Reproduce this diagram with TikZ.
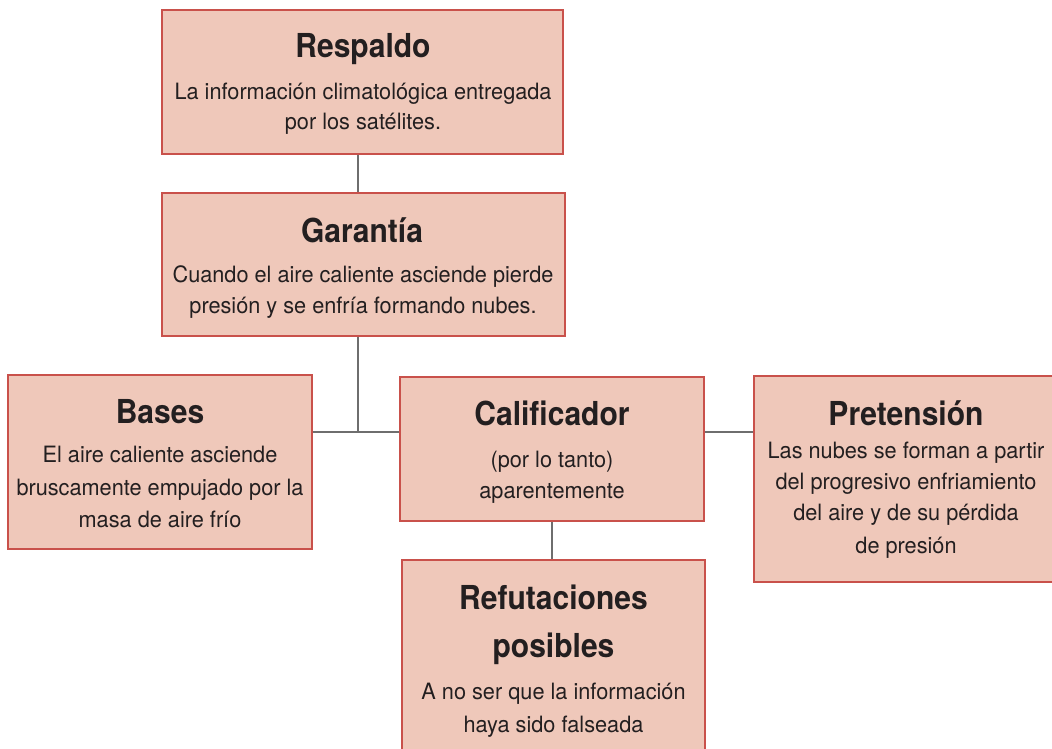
\documentclass[tikz,border=0pt]{standalone}
\usepackage{fontspec}
\setmainfont{TeX Gyre Heros}
\newfontfamily\ttlfont[FakeStretch=0.91]{TeX Gyre Heros}
\newfontfamily\bodfont[FakeStretch=0.965]{TeX Gyre Heros}
\definecolor{boxfill}{HTML}{EFC8BA}
\definecolor{boxline}{HTML}{C9514B}
\definecolor{conn}{HTML}{6E6E6E}
\definecolor{ink}{HTML}{231F20}
\tikzset{
  box/.style={draw=boxline, fill=boxfill, line width=1.6pt, inner sep=0pt, rectangle},
  ttl/.style={anchor=base, inner sep=0pt, text=ink, font=\ttlfont\bfseries\fontsize{33}{36}\selectfont},
  bod/.style={anchor=base, inner sep=0pt, text=ink, font=\bodfont\fontsize{22.5}{31}\selectfont},
  conline/.style={draw=conn, line width=1.5pt}
}
\begin{document}
\begin{tikzpicture}[x=1pt,y=-1pt]
\useasboundingbox (0,0) rectangle (1052,749);
% boxes
\node[box, minimum width=401pt, minimum height=144pt] (res) at (362.5,82) {};
\node[box, minimum width=403pt, minimum height=143pt] (gar) at (363.5,264.5) {};
\node[box, minimum width=304pt, minimum height=174pt] (bas) at (160,462) {};
\node[box, minimum width=304pt, minimum height=144pt] (cal) at (552,449) {};
\node[box, minimum width=308pt, minimum height=206pt] (pre) at (908,479) {};
\node[box, minimum width=303pt, minimum height=210pt] (ref) at (553.5,665) {};
% connectors
\coordinate (j) at (358,432);
\draw[conline] (j |- res.south) -- (j |- gar.north);
\draw[conline] (j |- gar.south) -- (j);
\draw[conline] (bas.east |- j) -- (cal.west |- j);
\draw[conline] (cal.east |- j) -- (pre.west |- j);
\draw[conline] (cal.south) -- (cal.south |- ref.north);
% Respaldo
\node[ttl] (resT) at (363,58) {Respaldo};
\node[bod] (resA) at (363,100) {La información climatológica entregada};
\node[bod] (resB) at (363,130) {por los satélites.};
% Garantia
\node[ttl] (garT) at (362,242) {Garantía};
\node[bod] (garA) at (363,282) {Cuando el aire caliente asciende pierde};
\node[bod] (garB) at (363,313) {presión y se enfría formando nubes.};
% Bases
\node[ttl] (basT) at (160,423) {Bases};
\node[bod] (basA) at (160,462) {El aire caliente asciende};
\node[bod] (basB) at (160,495) {bruscamente empujado por la};
\node[bod] (basC) at (160,527) {masa de aire frío};
% Calificador
\node[ttl] (calT) at (552,425) {Calificador};
\node[bod] (calA) at (552,467) {(por lo tanto)};
\node[bod] (calB) at (552,498) {aparentemente};
% Pretension
\node[ttl] (preT) at (906,425) {Pretensión};
\node[bod] (preA) at (906,458) {Las nubes se forman a partir};
\node[bod] (preB) at (906,489) {del progresivo enfriamiento};
\node[bod] (preC) at (906,520) {del aire y de su pérdida};
\node[bod] (preD) at (906,553) {de presión};
% Refutaciones
\node[ttl] (refT) at (553.5,609) {Refutaciones};
\node[ttl] (refU) at (553.5,657) {posibles};
\node[bod] (refA) at (553.5,699) {A no ser que la información};
\node[bod] (refB) at (553.5,732) {haya sido falseada};
\end{tikzpicture}
\end{document}
